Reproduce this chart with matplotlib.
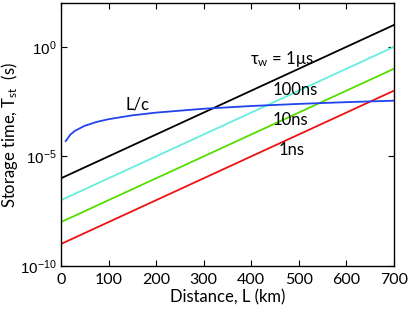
import matplotlib
matplotlib.use("Agg")
import matplotlib.pyplot as plt
from matplotlib.ticker import FixedLocator, FixedFormatter, NullLocator

plt.rcParams['mathtext.fontset'] = 'custom'
plt.rcParams['mathtext.rm'] = 'Liberation Sans'
plt.rcParams['mathtext.it'] = 'Liberation Sans:italic'

FONT = ['Lato', 'DejaVu Sans']

# data
dist = [0, 100, 200, 300, 400, 500, 600, 700]
t_1us = [1e-6, 1e-5, 1e-4, 1e-3, 1e-2, 1e-1, 1e0, 1e1]
t_100ns = [1e-7, 1e-6, 1e-5, 1e-4, 1e-3, 1e-2, 1e-1, 1e0]
t_10ns = [1e-8, 1e-7, 1e-6, 1e-5, 1e-4, 1e-3, 1e-2, 1e-1]
t_1ns = [1e-9, 1e-8, 1e-7, 1e-6, 1e-5, 1e-4, 1e-3, 1e-2]

dist_lc = [10, 20, 30, 50, 75, 100, 150, 200, 300, 400, 500, 600, 700]
t_lc = [5e-5, 1e-4, 1.5e-4, 2.5e-4, 3.75e-4, 5e-4, 7.5e-4, 1e-3,
        1.5e-3, 2e-3, 2.5e-3, 3e-3, 3.5e-3]

xticks = [0, 100, 200, 300, 400, 500, 600, 700]
yticks = [1e-10, 1e-5, 1e0]
ytick_labels = ['$10^{-10}$', '$10^{-5}$', '$10^{0}$']

fig = plt.figure(figsize=(4.09, 3.11), dpi=100)
ax = fig.add_axes([0.149, 0.145, 0.814, 0.845])

ax.plot(dist, t_1us, color='black', lw=1.3)
ax.plot(dist, t_100ns, color='#66eedd', lw=1.3)
ax.plot(dist, t_10ns, color='#55dd00', lw=1.3)
ax.plot(dist, t_1ns, color='#ee1111', lw=1.3)
ax.plot(dist_lc, t_lc, color='#2244ee', lw=1.3)

ax.set_yscale('log')
ax.set_xlim(0, 700)
ax.set_ylim(1e-10, 1e2)
ax.xaxis.set_major_locator(FixedLocator(xticks))
ax.yaxis.set_major_locator(FixedLocator(yticks))
ax.yaxis.set_major_formatter(FixedFormatter(ytick_labels))
ax.yaxis.set_minor_locator(NullLocator())
ax.tick_params(direction='in', top=True, right=True, length=4, width=0.8)
ax.tick_params(axis='y', labelsize=11, pad=3)
ax.tick_params(axis='x', labelsize=11.5, pad=5)
for lab in ax.get_xticklabels():
    lab.set_family(FONT)
for sp in ax.spines.values():
    sp.set_linewidth(1.0)

ax.set_xlabel('Distance, L (km)', family=FONT, fontsize=12, labelpad=2)
ax.set_ylabel('Storage time, T$_\\mathregular{st}$  (s)', family=FONT, fontsize=12)
ax.yaxis.set_label_coords(-0.124, 0.5)

ax.text(397, 10**-0.53, 'τ$_\\mathregular{w}$ = 1μs', family=FONT, fontsize=12, va='center')
ax.text(446, 10**-1.98, '100ns', family=FONT, fontsize=12, va='center')
ax.text(446, 10**-3.35, '10ns', family=FONT, fontsize=12, va='center')
ax.text(458, 10**-4.73, '1ns', family=FONT, fontsize=12, va='center')
ax.text(136, 10**-2.62, 'L/c', family=FONT, fontsize=12, va='center')

fig.savefig('out.png', dpi=100)
